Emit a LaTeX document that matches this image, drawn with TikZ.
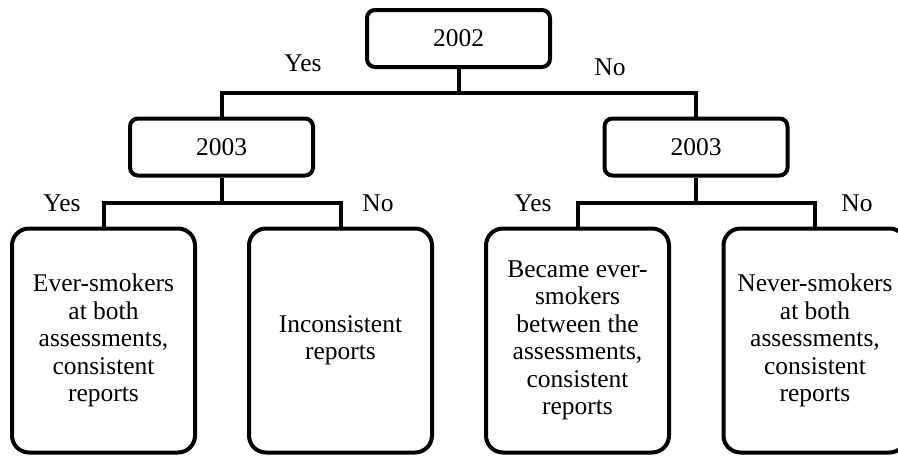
\documentclass[tikz,border=0pt]{standalone}
\usepackage{fontspec}
\setmainfont{Liberation Serif}
\usepackage{tikz}
\usetikzlibrary{calc,positioning}

\begin{document}
\begin{tikzpicture}[x=1pt,y=-1pt,font=\fontsize{25.5pt}{27.5pt}\selectfont,
        yr/.style={rectangle,rounded corners=8pt,draw=black,line width=4pt,minimum width=183pt,minimum height=57pt,inner sep=0pt},
        lf/.style={rectangle,rounded corners=17pt,draw=black,line width=4pt,minimum width=183pt,minimum height=224pt,inner sep=0pt,align=center},
        br/.style={line width=4pt,color=black},
        lb/.style={inner sep=0pt}]
        \useasboundingbox (0,0) rectangle (898,458);
        \node[yr] (top) at (458.5,38.5) {2002};
        \node[yr] (y03) at (221.5,147) {2003}; \node[yr] (n03) at (696,147) {2003};
        \node[lf] (evr) at (103.5,340.5) {Ever-smokers\\at both\\assessments,\\consistent\\reports};
        \node[lf] (inc) at (340.5,340.5) {Inconsistent\\reports};
        \node[lf] (bec) at (577.5,340.5) {Became ever-\\smokers\\between the\\assessments,\\consistent\\reports};
        \node[lf] (nvr) at (815,340.5) {Never-smokers\\at both\\assessments,\\consistent\\reports};
        % junctions
        \coordinate (j0) at (top.south |- 0,93); \coordinate (j1) at (y03.south |- 0,203); \coordinate (j2) at (n03.south |- 0,203);
        \draw[br] (top) -- (j0); \draw[br] (y03.north) |- (j0) -| (n03.north);
        \draw[br] (y03) -- (j1); \draw[br] (evr.north) |- (j1) -| (inc.north);
        \draw[br] (n03) -- (j2); \draw[br] (bec.north) |- (j2) -| (nvr.north);
        % answers
        \node[lb] (t1) at (303,63) {Yes}; \node[lb] (t2) at (610,67) {No};
        \node[lb] (t3) at (62,203) {Yes}; \node[lb] (t4) at (378,203) {No};
        \node[lb] (t5) at (533,203) {Yes}; \node[lb] (t6) at (857,203) {No};
      \end{tikzpicture}
\end{document}
